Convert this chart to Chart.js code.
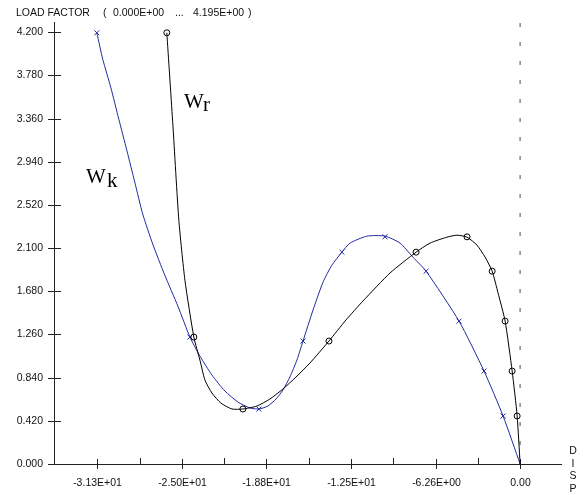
<!DOCTYPE html>
<html>
<head>
<meta charset="utf-8">
<script src="https://cdn.jsdelivr.net/npm/chart.js@4.4.0/dist/chart.umd.min.js"></script>
<style>
body { margin: 0; background: #fff; }
</style>
</head>
<body>
<canvas id="myChart" width="588" height="495"></canvas>
<script>
// load steps shared by both displacement components (markers)
const loadSteps = [0.467, 0.904, 1.390, 1.876, 2.210, 2.061, 1.196, 0.535, 1.235, 4.195];
const wrMarkDisp = [-0.22, -0.59, -1.11, -2.07, -3.93, -7.70, -14.15, -20.52, -24.15, -26.15];
const wkMarkDisp = [-1.26, -2.67, -4.52, -6.96, -10.00, -13.19, -16.07, -19.33, -24.44, -31.33];

// curve traces
const wrCurveX = [0, -0.22, -0.59, -1.11, -1.63, -2.07, -2.59, -3.19, -3.93, -4.67, -5.41, -6.67, -7.70, -9.63, -11.63, -12.89, -14.15, -15.56, -16.59, -17.56, -18.52, -19.48, -20.52, -21.33, -22.15, -22.81, -23.33, -23.70, -24.15, -24.81, -25.26, -25.70, -26.15];
const wrCurveY = [0, 0.467, 0.904, 1.390, 1.662, 1.876, 2.012, 2.129, 2.207, 2.226, 2.207, 2.149, 2.061, 1.858, 1.586, 1.401, 1.196, 0.982, 0.846, 0.729, 0.632, 0.564, 0.535, 0.535, 0.593, 0.690, 0.817, 1.011, 1.235, 1.789, 2.372, 3.296, 4.195];
const wkCurveX = [0, -1.26, -2.67, -4.52, -6.96, -7.93, -8.89, -10.00, -11.33, -12.59, -13.19, -13.93, -14.59, -15.33, -16.07, -16.52, -17.04, -17.56, -18.07, -18.67, -19.33, -20.00, -20.89, -21.85, -22.81, -23.70, -24.44, -25.33, -26.30, -27.19, -27.93, -28.52, -29.11, -29.70, -30.30, -30.89, -31.33];
const wkCurveY = [0, 0.467, 0.904, 1.390, 1.876, 2.012, 2.149, 2.217, 2.217, 2.149, 2.061, 1.935, 1.769, 1.497, 1.196, 1.011, 0.846, 0.719, 0.632, 0.564, 0.535, 0.545, 0.603, 0.710, 0.865, 1.050, 1.235, 1.536, 1.837, 2.139, 2.430, 2.741, 3.052, 3.353, 3.665, 3.937, 4.195];

const yTicks = [0, 0.42, 0.84, 1.26, 1.68, 2.10, 2.52, 2.94, 3.36, 3.78, 4.20];
const xTicks = [-31.3, -25.04, -18.78, -12.52, -6.26, 0];
const xTickLabels = ['-3.13E+01', '-2.50E+01', '-1.88E+01', '-1.25E+01', '-6.26E+00', '0.00'];
const xRange = [-34.5, 3.1];
const yRange = [0, 4.3];

const blue = '#1f2a9e';
const smallFont = '10.5px "Liberation Sans", Arial, sans-serif';

function toPoints(xs, ys) {
    return xs.map((x, i) => ({ x: x, y: ys[i] }));
};

const axesPlugin = {
    id: 'axesPlugin',
    beforeDatasetsDraw(chart) {
        const ctx = chart.ctx;
        const xs = chart.scales.x;
        const ys = chart.scales.y;
        const left = chart.chartArea.left;
        const top = chart.chartArea.top;
        const y0 = ys.getPixelForValue(0);
        ctx.save();
        // dotted line at zero displacement
        ctx.strokeStyle = '#8a8a8a';
        ctx.lineWidth = 1.5;
        ctx.setLineDash([4, 15]);
        ctx.beginPath();
        ctx.moveTo(xs.getPixelForValue(0), top + 1);
        ctx.lineTo(xs.getPixelForValue(0), y0);
        ctx.stroke();
        ctx.setLineDash([]);

        ctx.strokeStyle = '#222';
        ctx.lineWidth = 1;
        ctx.beginPath();
        ctx.moveTo(left + 0.5, top);
        ctx.lineTo(left + 0.5, y0);
        ctx.moveTo(left, Math.round(y0) + 0.5);
        ctx.lineTo(chart.chartArea.right, Math.round(y0) + 0.5);
        ctx.stroke();

        ctx.fillStyle = '#111';
        ctx.font = smallFont;
        ctx.textBaseline = 'middle';
        ctx.textAlign = 'right';
        yTicks.forEach(v => {
            const py = Math.round(ys.getPixelForValue(v)) + 0.5;
            ctx.beginPath();
            ctx.moveTo(left - 6, py);
            ctx.lineTo(left + 7, py);
            ctx.stroke();
            ctx.fillText(v.toFixed(3), 43, py);
        });
        ctx.textAlign = 'center';
        xTicks.forEach((v, i) => {
            const px = Math.round(xs.getPixelForValue(v)) + 0.5;
            ctx.beginPath();
            ctx.moveTo(px, y0 - 5);
            ctx.lineTo(px, y0 + 5);
            ctx.stroke();
            ctx.fillText(xTickLabels[i], px, 483);
            if (i < xTicks.length - 1) {
                const mx = Math.round(xs.getPixelForValue((v + xTicks[i + 1]) / 2)) + 0.5;
                ctx.beginPath();
                ctx.moveTo(mx, y0 - 6);
                ctx.lineTo(mx, y0);
                ctx.stroke();
            }
        });
        // axis captions
        ctx.textAlign = 'left';
        ctx.fillText('LOAD FACTOR', 16, 13);
        ctx.fillText('(', 103, 13);
        ctx.fillText('0.000E+00', 113, 13);
        ctx.fillText('...', 175, 13);
        ctx.fillText('4.195E+00', 193, 13);
        ctx.fillText(')', 248, 13);
        ctx.textAlign = 'center';
        ['D', 'I', 'S', 'P'].forEach((c, i) => ctx.fillText(c, 573, 451 + i * 12.7));

        ctx.font = '21px "Liberation Serif", "Times New Roman", serif';
        ctx.textBaseline = 'alphabetic';
        ctx.textAlign = 'left';
        ctx.fillStyle = '#000';
        ctx.fillText('W', 184, 108);
        ctx.fillText('r', 203, 111);
        ctx.fillText('W', 86, 183);
        ctx.fillText('k', 107, 187);
        ctx.restore();
    }
};

const ctx = document.getElementById('myChart');
const myChart = new Chart(ctx, {
    type: 'scatter',
    data: {
        datasets: [
            {
                label: 'Wr',
                data: toPoints(wrCurveX, wrCurveY),
                showLine: true,
                borderColor: '#000',
                borderWidth: 1,
                pointRadius: 0,
                tension: 0.2
            },
            {
                label: 'Wr steps',
                data: toPoints(wrMarkDisp, loadSteps),
                pointStyle: 'circle',
                pointRadius: 3,
                borderColor: '#000',
                borderWidth: 1,
                backgroundColor: 'rgba(0,0,0,0)'
            },
            {
                label: 'Wk',
                data: toPoints(wkCurveX, wkCurveY),
                showLine: true,
                borderColor: blue,
                borderWidth: 1,
                pointRadius: 0,
                tension: 0.2
            },
            {
                label: 'Wk steps',
                data: toPoints(wkMarkDisp, loadSteps),
                pointStyle: 'crossRot',
                pointRadius: 3.5,
                borderColor: blue,
                borderWidth: 1
            }
        ]
    },
    options: {
        responsive: false,
        animation: false,
        devicePixelRatio: 1,
        clip: false,
        layout: { padding: { left: 54, right: 26, top: 22, bottom: 31 } },
        plugins: { legend: { display: false }, tooltip: { enabled: false } },
        scales: {
            x: { type: 'linear', min: xRange[0], max: xRange[1], display: false },
            y: { type: 'linear', min: yRange[0], max: yRange[1], display: false }
        }
    },
    plugins: [axesPlugin]
});
</script>
</body>
</html>
